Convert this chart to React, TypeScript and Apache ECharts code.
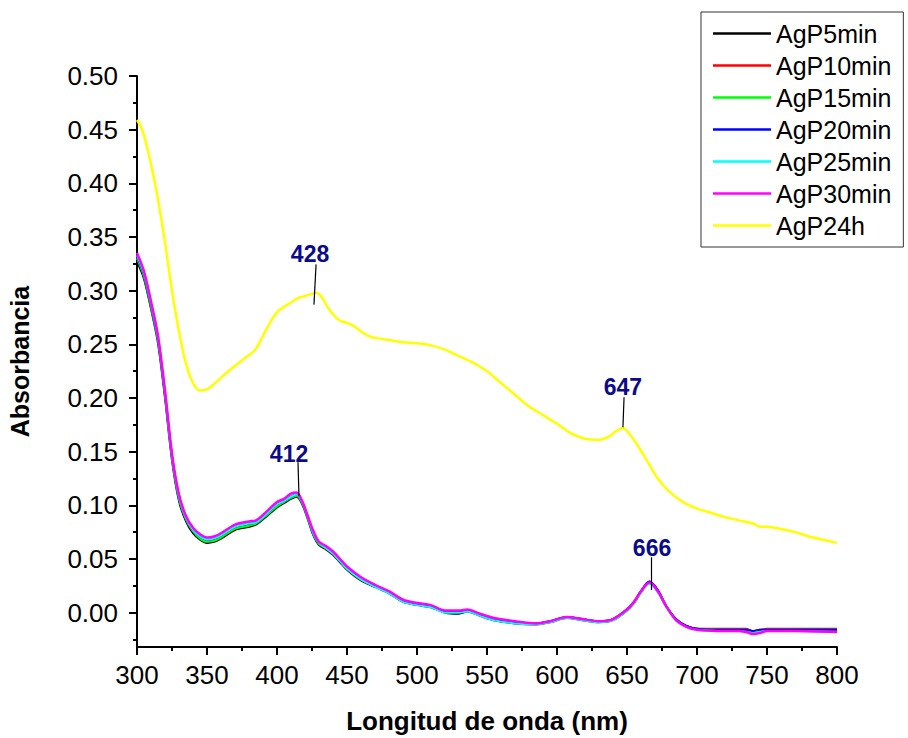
import React, { useEffect, useRef } from "react";
import * as echarts from "echarts";

const seriesNames = ["AgP5min", "AgP10min", "AgP15min", "AgP20min", "AgP25min", "AgP30min", "AgP24h"];
const seriesColors = ["#000000", "#ff0000", "#00ff00", "#0000ff", "#00ffff", "#ff00ff", "#ffff00"];

const lowWl = [300,305,310,315,320,325,330,335,340,345,350,355,360,370,380,385,390,400,405,410,414,418,422,426,430,435,440,445,450,460,470,480,490,500,510,520,530,536,545,555,570,585,595,607,618,630,640,650,655,660,666,672,678,685,692,700,715,730,735,740,745,750,770,800];

const agP5min = [0.327,0.311,0.283,0.251,0.200,0.142,0.104,0.085,0.074,0.068,0.065,0.066,0.069,0.077,0.080,0.082,0.087,0.098,0.102,0.106,0.108,0.101,0.087,0.072,0.063,0.059,0.054,0.047,0.040,0.030,0.024,0.018,0.010,0.007,0.005,0.000,-0.001,0.001,-0.003,-0.007,-0.010,-0.011,-0.009,-0.005,-0.007,-0.009,-0.007,0.002,0.009,0.019,0.028,0.020,0.006,-0.006,-0.012,-0.015,-0.016,-0.016,-0.016,-0.017,-0.017,-0.016,-0.016,-0.016];
const agP10min = [0.331,0.314,0.286,0.254,0.203,0.145,0.107,0.087,0.076,0.070,0.067,0.068,0.071,0.079,0.082,0.084,0.089,0.100,0.104,0.108,0.110,0.103,0.089,0.074,0.065,0.060,0.055,0.048,0.041,0.031,0.025,0.019,0.011,0.008,0.006,0.001,0.001,0.002,-0.002,-0.006,-0.009,-0.010,-0.008,-0.004,-0.006,-0.008,-0.006,0.003,0.010,0.020,0.029,0.021,0.006,-0.006,-0.012,-0.015,-0.015,-0.015,-0.015,-0.017,-0.016,-0.015,-0.015,-0.015];
const agP15min = [0.330,0.313,0.285,0.253,0.202,0.144,0.106,0.087,0.076,0.069,0.066,0.067,0.070,0.078,0.081,0.083,0.088,0.099,0.103,0.107,0.109,0.102,0.088,0.073,0.064,0.060,0.055,0.048,0.041,0.031,0.025,0.019,0.011,0.008,0.006,0.001,0.001,0.002,-0.002,-0.006,-0.009,-0.010,-0.008,-0.004,-0.006,-0.008,-0.006,0.003,0.010,0.020,0.028,0.020,0.006,-0.006,-0.013,-0.015,-0.016,-0.016,-0.016,-0.018,-0.017,-0.016,-0.016,-0.016];
const agP20min = [0.332,0.315,0.287,0.255,0.204,0.146,0.108,0.088,0.077,0.071,0.068,0.069,0.072,0.080,0.083,0.084,0.089,0.101,0.104,0.108,0.110,0.103,0.089,0.074,0.065,0.061,0.056,0.049,0.042,0.032,0.025,0.019,0.011,0.008,0.006,0.001,0.001,0.002,-0.002,-0.006,-0.009,-0.010,-0.008,-0.004,-0.006,-0.008,-0.006,0.003,0.010,0.020,0.029,0.021,0.006,-0.006,-0.012,-0.015,-0.016,-0.016,-0.016,-0.017,-0.016,-0.016,-0.016,-0.016];
const agP25min = [0.333,0.316,0.288,0.256,0.205,0.146,0.108,0.088,0.077,0.071,0.068,0.069,0.072,0.080,0.083,0.084,0.089,0.101,0.104,0.108,0.110,0.103,0.089,0.074,0.065,0.060,0.055,0.048,0.041,0.031,0.024,0.018,0.010,0.007,0.005,0.000,0.000,0.001,-0.003,-0.007,-0.010,-0.011,-0.009,-0.005,-0.007,-0.009,-0.007,0.002,0.009,0.019,0.027,0.019,0.005,-0.007,-0.013,-0.016,-0.017,-0.017,-0.018,-0.019,-0.018,-0.017,-0.017,-0.018];
const agP30min = [0.335,0.318,0.290,0.258,0.207,0.148,0.110,0.090,0.079,0.073,0.070,0.071,0.074,0.082,0.085,0.086,0.091,0.103,0.106,0.111,0.112,0.104,0.090,0.076,0.066,0.062,0.057,0.050,0.043,0.033,0.026,0.020,0.012,0.009,0.007,0.002,0.002,0.003,-0.001,-0.005,-0.008,-0.010,-0.008,-0.004,-0.006,-0.008,-0.006,0.003,0.010,0.020,0.028,0.020,0.006,-0.007,-0.013,-0.016,-0.017,-0.017,-0.018,-0.020,-0.019,-0.017,-0.017,-0.018];

const highWl = [300,303,306,310,315,320,325,330,335,340,345,350,355,360,370,380,385,390,395,400,405,410,415,420,425,428,432,436,440,445,450,455,460,465,470,480,490,500,510,520,530,540,550,560,570,580,590,600,610,620,630,637,642,647,652,658,665,672,680,690,700,710,720,730,740,745,750,760,770,780,790,800];
const agP24h = [0.459,0.452,0.440,0.418,0.385,0.345,0.300,0.262,0.232,0.214,0.207,0.208,0.213,0.219,0.230,0.240,0.246,0.258,0.270,0.280,0.285,0.289,0.293,0.295,0.297,0.298,0.294,0.285,0.278,0.272,0.270,0.267,0.262,0.258,0.256,0.254,0.252,0.251,0.249,0.245,0.239,0.233,0.225,0.214,0.203,0.192,0.184,0.176,0.167,0.162,0.161,0.164,0.169,0.172,0.166,0.155,0.140,0.125,0.113,0.103,0.097,0.093,0.089,0.086,0.083,0.080,0.080,0.078,0.075,0.071,0.068,0.065];

const yMajorTicks = [0, 0.05, 0.1, 0.15, 0.2, 0.25, 0.3, 0.35, 0.4, 0.45, 0.5];
const yMinorTicks = [-0.025, 0.025, 0.075, 0.125, 0.175, 0.225, 0.275, 0.325, 0.375, 0.425, 0.475];

const peakLabels = ["428", "412", "647", "666"];
const peakLabelX = [423.6, 408.6, 647.1, 667.9];
const peakLabelY = [0.334, 0.1476, 0.210, 0.060];
const peakLineTopX = [427.9, 415.0, 647.9, 667.1];
const peakLineTopY = [0.3245, 0.1401, 0.2007, 0.0517];
const peakLineBotX = [426.4, 415.7, 647.1, 667.1];
const peakLineBotY = [0.287, 0.1085, 0.1727, 0.021];

const FONT = '"Liberation Sans", Arial, Helvetica, sans-serif';

export default function App() {
  const ref = useRef<HTMLDivElement>(null);
  useEffect(() => {
    if (!ref.current) return;
    const chart = echarts.init(ref.current, null, { renderer: "svg" });
    const lowSets = [agP5min, agP10min, agP15min, agP20min, agP25min, agP30min];
    const series: any[] = lowSets.map((vals, i) => ({
      name: seriesNames[i],
      type: "line",
      data: lowWl.map((w, j) => [w, vals[j]]),
      smooth: 0.3,
      symbol: "none",
      lineStyle: { color: seriesColors[i], width: i === 5 ? 2.5 : 2 },
      itemStyle: { color: seriesColors[i] },
    }));
    series.push({
      name: seriesNames[6],
      type: "line",
      data: highWl.map((w, j) => [w, agP24h[j]]),
      smooth: 0.3,
      symbol: "none",
      lineStyle: { color: seriesColors[6], width: 2.5 },
      itemStyle: { color: seriesColors[6] },
    });
    series.push({
      name: "peaks",
      type: "scatter",
      symbolSize: 0,
      silent: true,
      itemStyle: { color: "transparent", opacity: 1 },
      data: peakLabels.map((t, i) => [peakLabelX[i], peakLabelY[i], t]),
      label: {
        show: true,
        position: "inside",
        formatter: (p: any) => p.data[2],
        color: "#0a0a8a",
        opacity: 1,
        textBorderWidth: 0,
        fontWeight: "bold",
        fontSize: 23,
        fontFamily: FONT,
      },
      markLine: {
        silent: true,
        symbol: ["none", "none"],
        label: { show: false },
        lineStyle: { color: "#000", width: 1.2, type: "solid", opacity: 1 },
        data: peakLabels.map((_, i) => [
          { coord: [peakLineTopX[i], peakLineTopY[i]] },
          { coord: [peakLineBotX[i], peakLineBotY[i]] },
        ]),
      },
    });

    const option: any = {
      animation: false,
      textStyle: { fontFamily: FONT },
      grid: { left: 137, right: 71, top: 76, bottom: 91, containLabel: false, outerBoundsMode: "none" },
      legend: {
        data: seriesNames,
        orient: "vertical",
        left: 701,
        top: 12,
        padding: [9, 12, 9, 12],
        icon: "rect",
        itemWidth: 58,
        itemHeight: 2.5,
        itemGap: 7,
        borderColor: "#333",
        borderWidth: 1,
        textStyle: { fontSize: 25, color: "#000", fontFamily: FONT, lineHeight: 25 },
      },
      xAxis: {
        type: "value",
        min: 300,
        max: 800,
        interval: 50,
        name: "Longitud de onda (nm)",
        nameLocation: "middle",
        nameGap: 61,
        nameTextStyle: { fontWeight: "bold", fontSize: 26, color: "#000", fontFamily: FONT },
        axisLine: { onZero: false, lineStyle: { color: "#000", width: 2 } },
        axisTick: { length: 8, lineStyle: { color: "#000", width: 2 } },
        minorTick: { show: true, splitNumber: 2, length: 4, lineStyle: { color: "#000", width: 2 } },
        splitLine: { show: false },
        minorSplitLine: { show: false },
        axisLabel: { color: "#000", fontSize: 26, margin: 15, fontFamily: FONT },
      },
      yAxis: [
        {
          type: "value",
          min: -0.032,
          max: 0.5,
          position: "left",
          name: "Absorbancia",
          nameLocation: "middle",
          nameGap: 105,
          nameTextStyle: { fontWeight: "bold", fontSize: 25, color: "#000", fontFamily: FONT },
          axisLine: { show: true, onZero: false, lineStyle: { color: "#000", width: 2 } },
          axisTick: { show: true, length: 8, customValues: yMajorTicks, lineStyle: { color: "#000", width: 2 } },
          axisLabel: {
            color: "#000",
            fontSize: 26,
            margin: 19,
            fontFamily: FONT,
            customValues: yMajorTicks,
            formatter: (v: number) => v.toFixed(2),
          },
          splitLine: { show: false },
        },
        {
          type: "value",
          min: -0.032,
          max: 0.5,
          position: "left",
          offset: 0,
          axisLine: { show: false, onZero: false },
          axisTick: { show: true, length: 4, customValues: yMinorTicks, lineStyle: { color: "#000", width: 2 } },
          axisLabel: { show: false },
          splitLine: { show: false },
        },
      ],
      series,
    };
    chart.setOption(option);
    return () => chart.dispose();
  }, []);
  return (
    <div
      ref={ref}
      style={{ position: "fixed", left: 0, top: 0, width: 908, height: 738, background: "#fff" }}
    />
  );
}
